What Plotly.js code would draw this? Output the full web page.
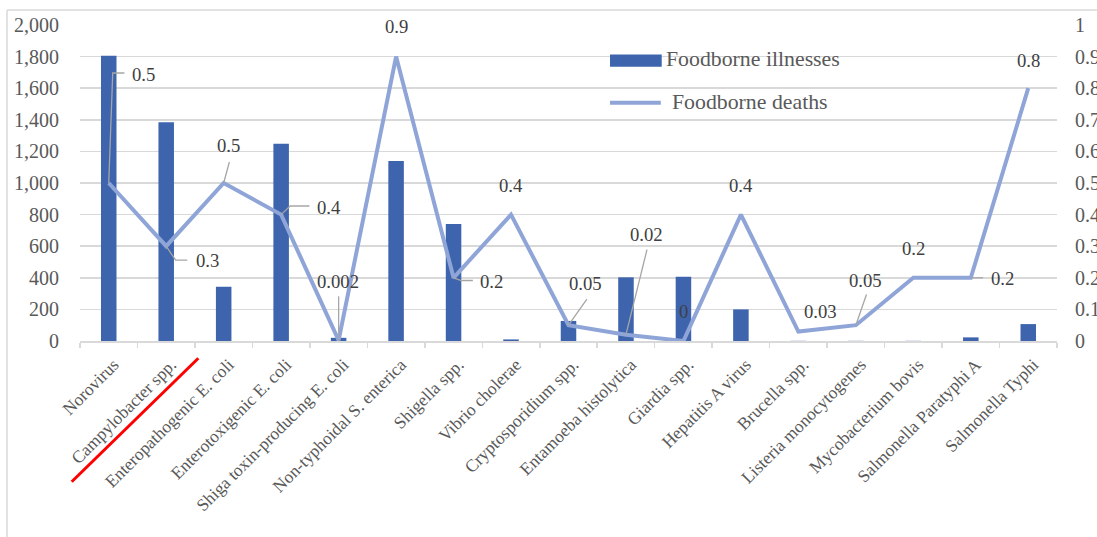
<!DOCTYPE html>
<html>
<head>
<meta charset="utf-8">
<script src="https://cdn.plot.ly/plotly-3.0.1.min.js"></script>
<style>html,body{margin:0;padding:0;background:#fff;}#chart{width:1097px;height:537px;}</style>
</head>
<body>
<div id="chart"></div>
<script>
const categories = ["Norovirus","Campylobacter spp.","Enteropathogenic E. coli","Enterotoxigenic E. coli","Shiga toxin-producing E. coli","Non-typhoidal S. enterica","Shigella spp.","Vibrio cholerae","Cryptosporidium spp.","Entamoeba histolytica","Giardia spp.","Hepatitis A virus","Brucella spp.","Listeria monocytogenes","Mycobacterium bovis","Salmonella Paratyphi A","Salmonella Typhi"];
const illnesses = [1806, 1384, 344, 1249, 20, 1139, 740, 10, 127, 403, 407, 200, 1, 1, 1, 23, 107];
const deaths = [0.5, 0.3, 0.5, 0.4, 0.002, 0.9, 0.2, 0.4, 0.05, 0.02, 0, 0.4, 0.03, 0.05, 0.2, 0.2, 0.8];
const leftTicks = [0,200,400,600,800,1000,1200,1400,1600,1800,2000];
const rightTicks = [0,0.1,0.2,0.3,0.4,0.5,0.6,0.7,0.8,0.9,1];

// data-label placement, pixels relative to the point (x right, y up)
const labelShift = [[35,109],[41,-14.7],[4.7,37.3],[47.6,7.6],[-1,59],[0,30],[38.3,-3.7],[0,29],[17,42],[20.7,100],[0,30],[0,29],[22,20.3],[9.8,45],[0,29.4],[31.8,-1],[0,28]];
// leader-line paths, pixels relative to the point (null = none)
const leaderPaths = ["M0,0L4,110L15.7,110","M0,0L9.4,-14L21,-14","M0,0L5.7,21","M0,0L9,8.6L28.3,8.6","M0,0L0,44",null,"M0,0L7.7,-2.7L19.3,-2.7",null,"M0,0L18.4,26","M0,0L21,85",null,null,null,"M0,0L10.6,30.7",null,"M0,0L12.3,0",null];

const FONT = "Liberation Serif, Times New Roman, serif";
const GRID = "#D9D9D9";
const TXT = "#595959";
const BAR = "#3D64AD";
const LINE = "#8FA5D8";

const bar = {type:'bar', x:categories, y:illnesses, name:'Foodborne illnesses', marker:{color:BAR}, width:0.27, yaxis:'y', hoverinfo:'skip'};
const line = {type:'scatter', mode:'lines', x:categories, y:deaths, name:'Foodborne deaths', line:{color:LINE, width:4}, yaxis:'y2', hoverinfo:'skip'};

const annotations = deaths.map((v,i)=>({
  x:categories[i], y:v, xref:'x', yref:'y2', text:String(v), showarrow:false,
  xshift:labelShift[i][0], yshift:labelShift[i][1],
  font:{family:FONT,size:18.7,color:'#404040'}
}));

// custom legend texts
annotations.push({xref:'paper',yref:'paper',x:0.598,y:0.892,xanchor:'left',yanchor:'middle',showarrow:false,text:'Foodborne illnesses',font:{family:FONT,size:21.8,color:TXT}});
annotations.push({xref:'paper',yref:'paper',x:0.6036,y:0.756,xanchor:'left',yanchor:'middle',showarrow:false,text:'Foodborne deaths',font:{family:FONT,size:21.8,color:TXT}});

const shapes = [];
deaths.forEach((v,i)=>{
  if (leaderPaths[i]) shapes.push({type:'path', xref:'x', yref:'y2', xsizemode:'pixel', ysizemode:'pixel', xanchor:i, yanchor:v, path:leaderPaths[i], line:{color:'#A6A6A6', width:1.3}, layer:'above'});
});
shapes.push(
  // chart border (left, top)
  {type:'line',xref:'paper',yref:'paper',x0:-0.0747,x1:-0.0747,y0:1.0475,y1:-0.7,line:{color:GRID,width:1.5}},
  {type:'line',xref:'paper',yref:'paper',x0:-0.0747,x1:1.1,y0:1.0475,y1:1.0475,line:{color:GRID,width:1.5}},
  // legend swatches
  {type:'rect',xref:'paper',yref:'paper',x0:0.5425,x1:0.5954,y0:0.868,y1:0.907,fillcolor:BAR,line:{width:0}},
  {type:'line',xref:'paper',yref:'paper',x0:0.5425,x1:0.5945,y0:0.754,y1:0.754,line:{color:LINE,width:4}},
  // red stroke
  {type:'line',xref:'paper',yref:'paper',x0:-0.0085,y0:-0.4453,x1:0.1211,y1:-0.0547,line:{color:'#FF0000',width:3}}
);

const layout = {
  width:1097, height:537,
  margin:{l:80, r:40, t:25, b:196},
  paper_bgcolor:'#fff', plot_bgcolor:'#fff',
  showlegend:false,
  xaxis:{type:'category', showline:true, linecolor:GRID, linewidth:1.5, ticks:'outside', tickson:'boundaries', ticklen:5, tickcolor:GRID, tickwidth:1.5, tickangle:-45, ticklabelstandoff:5, ticklabelshift:5, tickfont:{family:FONT,size:17.5,color:TXT}, showgrid:false, zeroline:false},
  yaxis:{range:[0,2000], tickvals:leftTicks, ticktext:leftTicks.map(v=>v.toLocaleString('en-US')), showgrid:true, gridcolor:GRID, gridwidth:1.5, zeroline:false, showline:false, ticks:'', ticklabelstandoff:20, tickfont:{family:FONT,size:20,color:TXT}},
  yaxis2:{range:[0,1], overlaying:'y', side:'right', tickvals:rightTicks, ticktext:rightTicks.map(v=>String(v)), showgrid:false, zeroline:false, showline:false, ticks:'', ticklabelstandoff:17, tickfont:{family:FONT,size:20,color:TXT}},
  annotations:annotations,
  shapes:shapes
};

Plotly.newPlot('chart',[bar,line],layout,{staticPlot:true, displayModeBar:false});
</script>
</body>
</html>
